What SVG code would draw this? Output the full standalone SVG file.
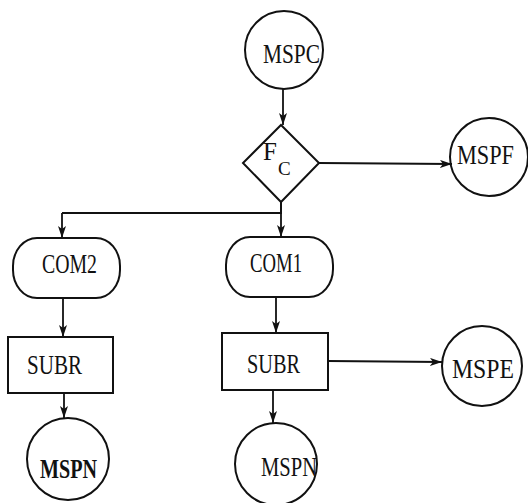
<svg xmlns="http://www.w3.org/2000/svg" width="528" height="503" viewBox="0 0 528 503">
<defs>
<marker id="arr" viewBox="0 0 12 8" refX="12" refY="4" markerWidth="12" markerHeight="8" markerUnits="userSpaceOnUse" orient="auto">
<path d="M0,0 L12,4 L0,8 L3,4 Z" fill="#111"/>
</marker>
<style>
.s{fill:none;stroke:#111;stroke-width:2}
.c{fill:none;stroke:#111;stroke-width:1.8;marker-end:url(#arr)}
.t{font-family:"Liberation Serif","Times New Roman",serif;font-size:27px;fill:#111}
.b{font-weight:bold}
</style>
</defs>
<rect width="528" height="503" fill="#fff"/>
<g id="connectors">
<path class="c" d="M283,89 L283,125"/>
<path class="c" d="M319,163 L452,164"/>
<path class="s" d="M281,202 L281,213 L62,213"/>
<path class="c" d="M281,213 L281,237"/>
<path class="c" d="M62,213 L62,238"/>
<path class="c" d="M63,298 L63,337"/>
<path class="c" d="M64,393 L64,418"/>
<path class="c" d="M276,297 L276,333"/>
<path class="c" d="M328,361 L442,362"/>
<path class="c" d="M273,390 L273,423"/>
</g>
<g id="MSPC">
<circle class="s" cx="284" cy="50" r="39"/>
<text class="t" x="263" y="63" textLength="57" lengthAdjust="spacingAndGlyphs">MSPC</text>
</g>
<g id="Fc">
<polygon class="s" points="281,125 319,163 281,202 243,163"/>
<text class="t" x="263" y="160" style="font-size:25px">F</text>
<text class="t" x="278" y="175" style="font-size:19px">C</text>
</g>
<g id="MSPF">
<circle class="s" cx="489" cy="157" r="39"/>
<text class="t" x="457" y="164" textLength="57" lengthAdjust="spacingAndGlyphs">MSPF</text>
</g>
<g id="COM2">
<rect class="s" x="13" y="238" width="107" height="60" rx="24" ry="28"/>
<text class="t" x="42" y="273" textLength="55" lengthAdjust="spacingAndGlyphs">COM2</text>
</g>
<g id="COM1">
<rect class="s" x="226" y="237" width="107" height="60" rx="24" ry="28"/>
<text class="t" x="250" y="272" textLength="52" lengthAdjust="spacingAndGlyphs">COM1</text>
</g>
<g id="SUBR1">
<rect class="s" x="8" y="337" width="105" height="56"/>
<text class="t" x="27" y="374" textLength="55" lengthAdjust="spacingAndGlyphs">SUBR</text>
</g>
<g id="SUBR2">
<rect class="s" x="222" y="333" width="106" height="57"/>
<text class="t" x="247" y="373" textLength="53" lengthAdjust="spacingAndGlyphs">SUBR</text>
</g>
<g id="MSPE">
<circle class="s" cx="482" cy="366" r="40"/>
<text class="t" x="452" y="378" textLength="62" lengthAdjust="spacingAndGlyphs">MSPE</text>
</g>
<g id="MSPN1">
<circle class="s" cx="68" cy="459" r="41"/>
<text class="t b" x="40" y="478" textLength="57" lengthAdjust="spacingAndGlyphs">MSPN</text>
</g>
<g id="MSPN2">
<circle class="s" cx="276" cy="464" r="41"/>
<text class="t" x="261" y="476" textLength="56" lengthAdjust="spacingAndGlyphs">MSPN</text>
</g>
</svg>
